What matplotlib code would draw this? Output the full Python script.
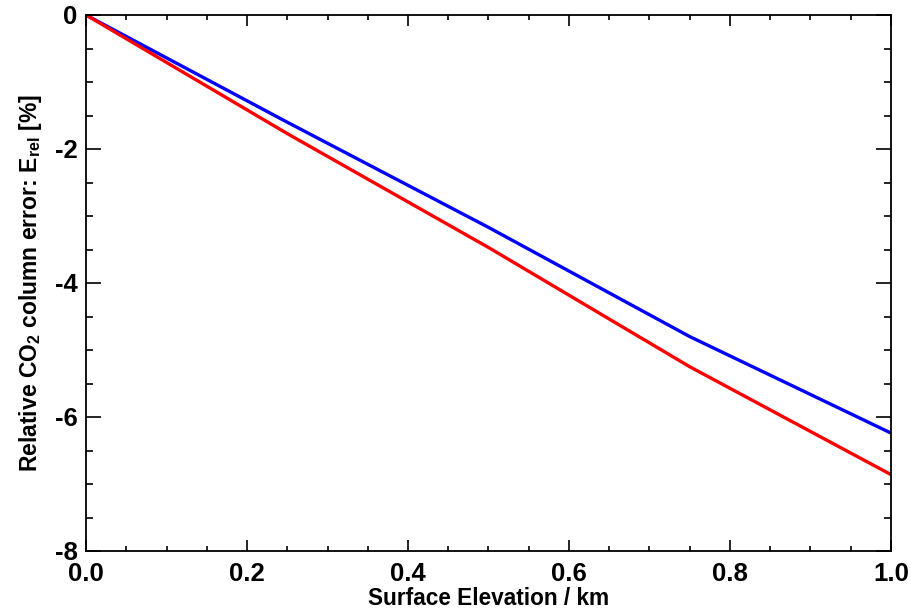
import matplotlib
matplotlib.use("Agg")
import matplotlib.pyplot as plt
from matplotlib.ticker import MultipleLocator

plt.rcParams['font.family'] = ['Liberation Sans', 'DejaVu Sans']
plt.rcParams['font.weight'] = 'bold'
plt.rcParams['mathtext.fontset'] = 'custom'
plt.rcParams['mathtext.rm'] = 'Liberation Sans:bold'
plt.rcParams['mathtext.default'] = 'rm'

# surface elevation (km) and relative column error (%)
elevation = [0.0, 0.25, 0.5, 0.75, 1.0]
err_blue = [0.0, -1.60, -3.17, -4.80, -6.24]
err_red = [0.0, -1.77, -3.47, -5.25, -6.86]

x_ticks = [0.0, 0.2, 0.4, 0.6, 0.8, 1.0]
y_ticks = [-8, -6, -4, -2, 0]

fig = plt.figure(figsize=(9.12, 6.16), dpi=100)
ax = fig.add_axes([86/912, 65/616, 805/912, 536/616])

ax.plot(elevation, err_blue, color="#0000ff", lw=2.4, solid_capstyle="butt")
ax.plot(elevation, err_red, color="#ff0000", lw=2.4, solid_capstyle="butt")

ax.set_xlim(0, 1.0)
ax.set_ylim(-8, 0)
ax.set_xticks(x_ticks)
ax.set_xticklabels(["%.1f" % v for v in x_ticks])
ax.set_yticks(y_ticks)
ax.set_yticklabels([str(v) for v in y_ticks])
ax.xaxis.set_minor_locator(MultipleLocator(0.05))
ax.yaxis.set_minor_locator(MultipleLocator(0.5))

ax.tick_params(which="both", direction="in", top=True, right=True,
               width=1.2, labelsize=18.5)
ax.tick_params(axis="x", which="major", length=8, pad=8)
ax.tick_params(axis="x", which="minor", length=3.5)
ax.tick_params(axis="y", which="major", length=11, pad=6)
ax.tick_params(axis="y", which="minor", length=5)
for s in ax.spines.values():
    s.set_linewidth(1.3)

ax.set_xlabel("Surface Elevation / km", fontsize=16.3, fontweight="bold", labelpad=0.5)
ax.set_ylabel("Relative CO$_2$ column error: E$_{rel}$ [%]", fontsize=16.5,
              fontweight="bold", labelpad=8)

fig.savefig("out.png", dpi=100)
